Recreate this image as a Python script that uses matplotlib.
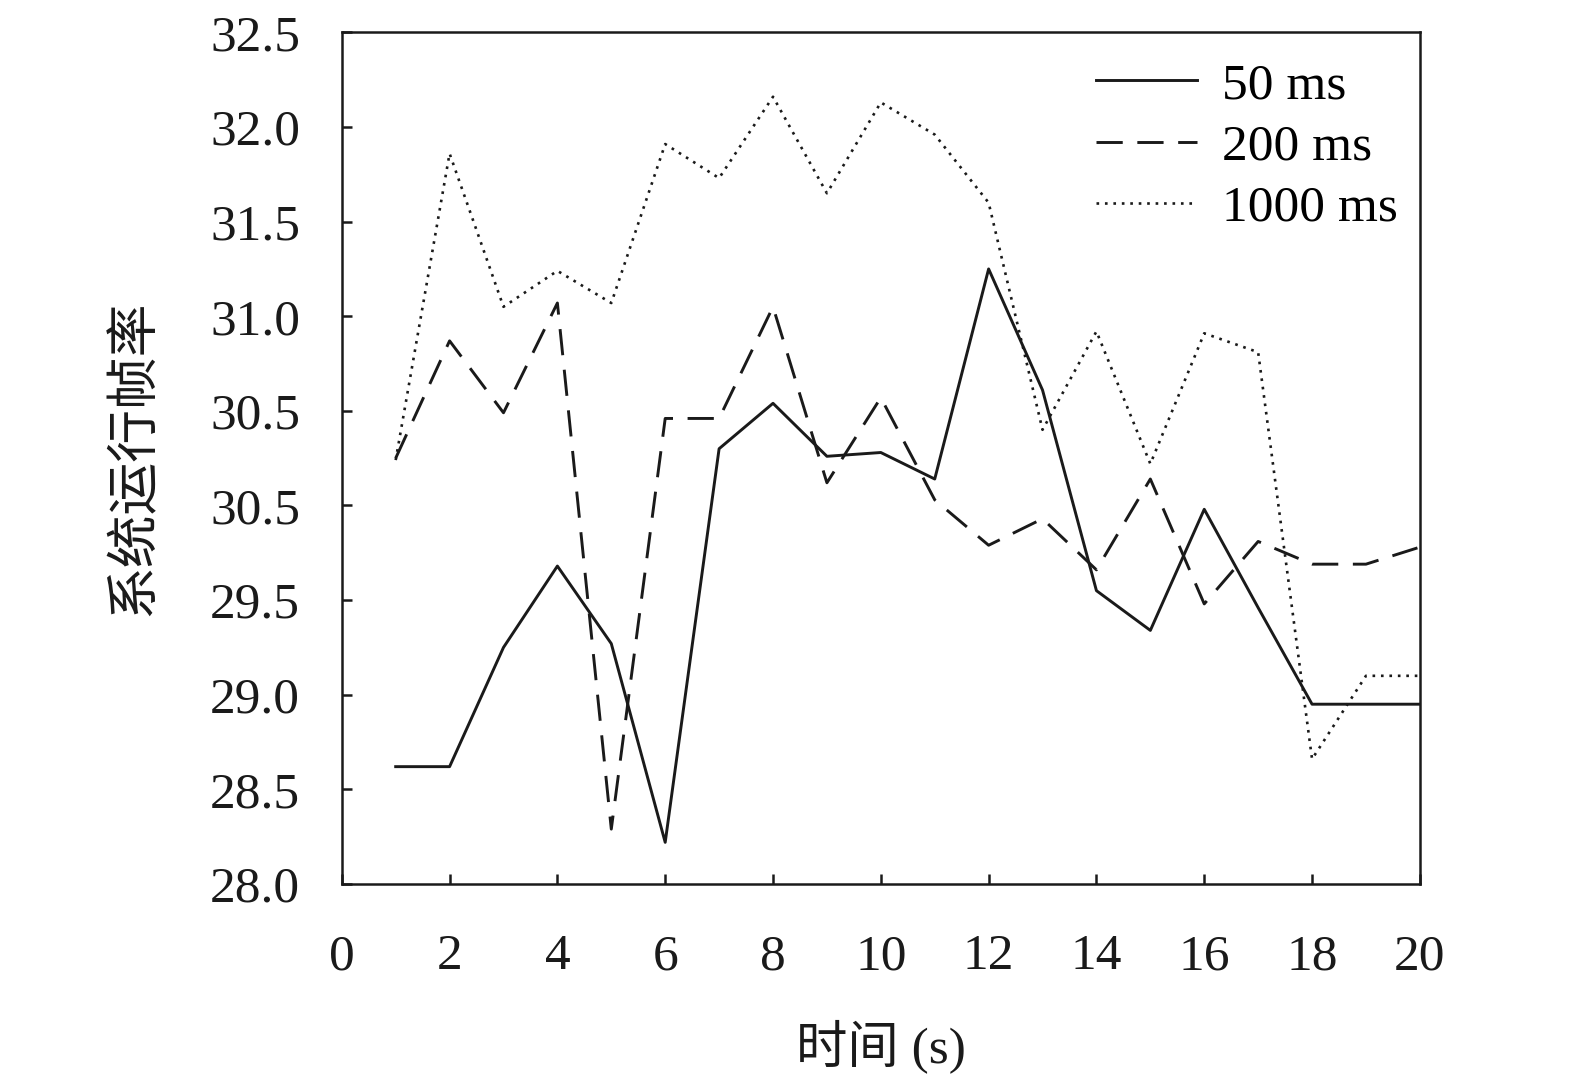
import matplotlib.pyplot as plt

plt.rcParams['font.family'] = ['Liberation Serif', 'Noto Sans CJK SC']

# data
t = list(range(1, 21))
fps_50 = [28.62, 28.62, 29.25, 29.68, 29.27, 28.22, 30.30, 30.54, 30.26, 30.28,
          30.14, 31.25, 30.61, 29.55, 29.34, 29.98, 29.46, 28.95, 28.95, 28.95]
fps_200 = [30.25, 30.87, 30.49, 31.07, 28.29, 30.46, 30.46, 31.05, 30.12, 30.57,
           30.03, 29.79, 29.93, 29.66, 30.14, 29.48, 29.81, 29.69, 29.69, 29.78]
fps_1000 = [30.24, 31.86, 31.05, 31.24, 31.07, 31.91, 31.73, 32.16, 31.65, 32.13,
            31.96, 31.60, 30.40, 30.92, 30.22, 30.91, 30.81, 28.66, 29.10, 29.10]

yticks = [28.0, 28.5, 29.0, 29.5, 30.0, 30.5, 31.0, 31.5, 32.0, 32.5]
ytick_labels = ['28.0', '28.5', '29.0', '29.5', '30.5', '30.5', '31.0', '31.5', '32.0', '32.5']
xticks = list(range(0, 21, 2))

fig = plt.figure(figsize=(15.75, 10.8), dpi=100)
ax = fig.add_axes([0.217, 0.1815, 0.6845, 0.7885])

ax.plot(t, fps_50, color='#1a1a1a', lw=2.1, ls='-', label='50 ms')
ax.plot(t, fps_200, color='#1a1a1a', lw=2.1, ls=(0, (9, 5)), label='200 ms')
ax.plot(t, fps_1000, color='#1a1a1a', lw=1.9, ls=(0, (1, 2.2)), label='1000 ms')

ax.set_xlim(0, 20)
ax.set_ylim(28.0, 32.5)
ax.set_xticks(xticks)
ax.set_yticks(yticks)
ax.set_yticklabels(ytick_labels)
ax.tick_params(direction='in', length=7, width=1.8, labelsize=37, colors='#1a1a1a')
ax.tick_params(axis='x', pad=36)
ax.tick_params(axis='y', pad=30)
for s in ax.spines.values():
    s.set_linewidth(1.8)
    s.set_color('#1a1a1a')

ax.set_xlabel('时间 (s)', fontsize=37, labelpad=28, color='#1a1a1a')
ax.set_ylabel('系统运行帧率', fontsize=38, labelpad=36, color='#1a1a1a')

ax.legend(loc='upper left', bbox_to_anchor=(0.70, 0.965), frameon=False,
          fontsize=37, handlelength=1.96, handletextpad=0.49, labelspacing=0.28,
          borderpad=0, borderaxespad=0)

fig.savefig('out.png', dpi=100)
